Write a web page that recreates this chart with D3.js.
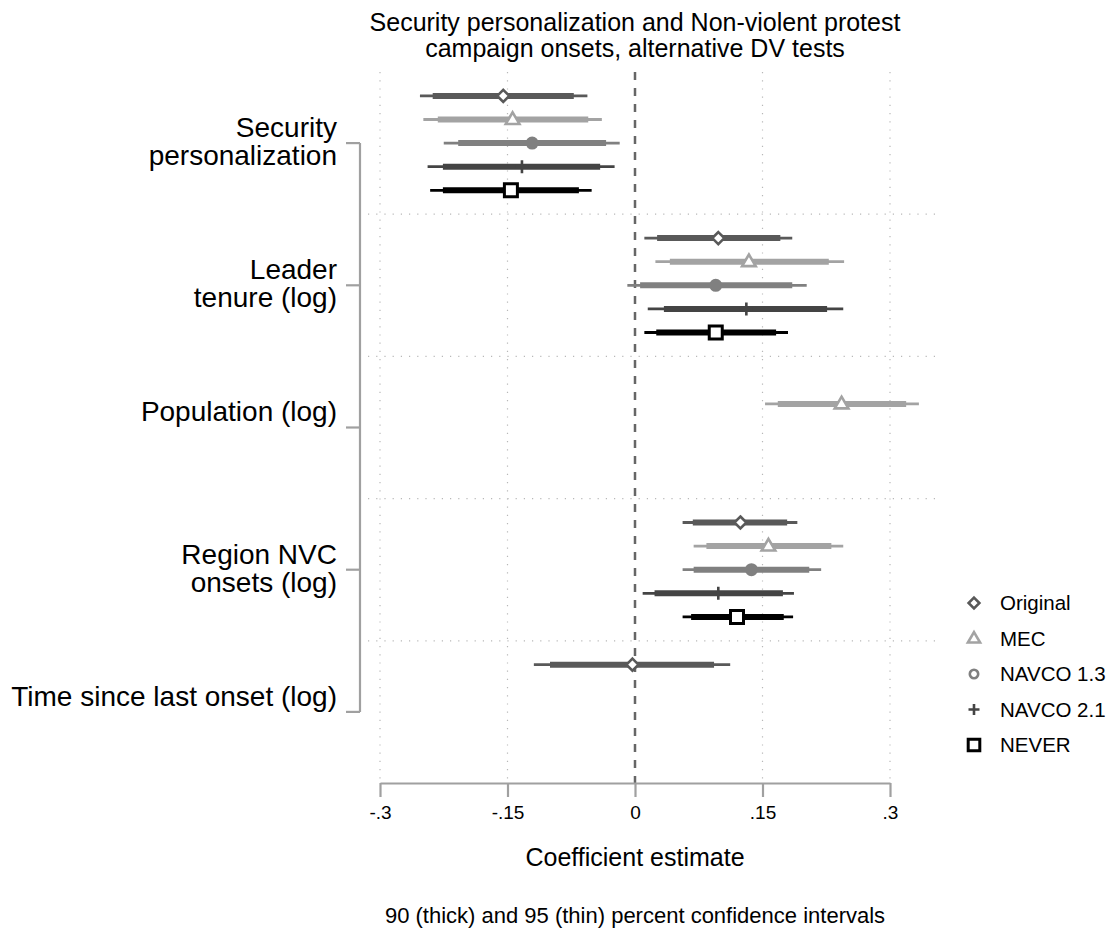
<!DOCTYPE html>
<html>
<head>
<meta charset="utf-8">
<script src="https://cdn.jsdelivr.net/npm/d3@7"></script>
<style>
  body { margin: 0; background: #fff; }
  text { font-family: "Liberation Sans", Arial, sans-serif; fill: #000; }
</style>
</head>
<body>
<div class="canvas"></div>
<script>
// categories (y axis) and their label lines
const categories = ['secpers', 'tenure', 'pop', 'region', 'since'];
const catLabels = [
    ['Security', 'personalization'],
    ['Leader', 'tenure (log)'],
    ['Population (log)'],
    ['Region NVC', 'onsets (log)'],
    ['Time since last onset (log)']
];

// models (series)
const models = ['Original', 'MEC', 'NAVCO 1.3', 'NAVCO 2.1', 'NEVER'];

// point estimates, rows = models, cols = categories
const estimates = [
    [-0.155, 0.098, null, 0.124, -0.003],
    [-0.144, 0.134, 0.243, 0.157, null],
    [-0.121, 0.095, null, 0.137, null],
    [-0.133, 0.131, null, 0.098, null],
    [-0.146, 0.095, null, 0.120, null]
];
// 90% intervals
const lo90 = [
    [-0.238, 0.026, null, 0.068, -0.100],
    [-0.232, 0.041, 0.168, 0.084, null],
    [-0.208, 0.006, null, 0.069, null],
    [-0.226, 0.034, null, 0.023, null],
    [-0.226, 0.025, null, 0.066, null]
];
const hi90 = [
    [-0.072, 0.171, null, 0.179, 0.093],
    [-0.055, 0.228, 0.319, 0.231, null],
    [-0.034, 0.185, null, 0.205, null],
    [-0.041, 0.226, null, 0.174, null],
    [-0.066, 0.166, null, 0.175, null]
];
// 95% intervals
const lo95 = [
    [-0.253, 0.011, null, 0.056, -0.119],
    [-0.249, 0.024, 0.153, 0.069, null],
    [-0.225, -0.009, null, 0.056, null],
    [-0.244, 0.015, null, 0.009, null],
    [-0.241, 0.011, null, 0.056, null]
];
const hi95 = [
    [-0.056, 0.185, null, 0.191, 0.112],
    [-0.039, 0.246, 0.334, 0.245, null],
    [-0.018, 0.202, null, 0.219, null],
    [-0.024, 0.245, null, 0.187, null],
    [-0.051, 0.180, null, 0.186, null]
];

const xTicks = [-0.3, -0.15, 0, 0.15, 0.3];
const xTickLabels = ['-.3', '-.15', '0', '.15', '.3'];

// styles per model
const colors = ['#595959', '#a3a3a3', '#808080', '#444444', '#000000'];
const shapes = ['diamond', 'triangle', 'circle', 'plus', 'square'];

// marker path generator
const markerPath = (shape, r) => {
    switch (shape) {
        case 'diamond': return `M0,${-r}L${r},0L0,${r}L${-r},0Z`;
        case 'triangle': return `M0,${-r}L${r * 0.95},${r * 0.62}L${-r * 0.95},${r * 0.62}Z`;
        case 'square': return `M${-r},${-r}H${r}V${r}H${-r}Z`;
        case 'plus': return `M0,${-r}V${r}M${-r},0H${r}`;
        default: return `M${r},0A${r},${r},0,1,1,${-r},0A${r},${r},0,1,1,${r},0Z`;
    }
};

const width = 1120, height = 950;
const plot = {left: 368, right: 935, top: 72, bottom: 783};

const svg = d3.select('.canvas')
    .append('svg')
    .attr('width', width)
    .attr('height', height);

// scales
const x = d3.scaleLinear().domain([-0.3, 0.3]).range([380, 890]);
const y = d3.scaleBand().domain(categories).range([plot.top, plot.bottom]);
const yRow = d3.scalePoint().domain(models).range([-47.2, 47.2]);
const yc = c => y(c) + y.bandwidth() / 2;

// title
const title = svg.append('text')
    .attr('x', 635)
    .attr('text-anchor', 'middle')
    .style('font-size', '25px');
title.append('tspan').attr('x', 635).attr('y', 31).text('Security personalization and Non-violent protest');
title.append('tspan').attr('x', 635).attr('y', 57).text('campaign onsets, alternative DV tests');

// grid: vertical dotted
const grid = svg.append('g');
grid.selectAll('line.vg')
    .data(xTicks.filter(d => d !== 0))
    .enter().append('line')
    .attr('x1', d => x(d)).attr('x2', d => x(d))
    .attr('y1', plot.top).attr('y2', plot.bottom)
    .attr('stroke', '#b8b8b8')
    .attr('stroke-width', 1.2)
    .attr('stroke-dasharray', '1.2,7');

// grid: horizontal dotted between groups
grid.selectAll('line.hg')
    .data(categories.slice(1))
    .enter().append('line')
    .attr('x1', plot.left).attr('x2', plot.right)
    .attr('y1', d => y(d)).attr('y2', d => y(d))
    .attr('stroke', '#b8b8b8')
    .attr('stroke-width', 1.2)
    .attr('stroke-dasharray', '1.2,7');

// zero reference line
svg.append('line')
    .attr('x1', x(0)).attr('x2', x(0))
    .attr('y1', plot.top).attr('y2', plot.bottom)
    .attr('stroke', '#666')
    .attr('stroke-width', 2.5)
    .attr('stroke-dasharray', '8,8');

// x axis
const xAxis = d3.axisBottom(x)
    .tickValues(xTicks)
    .tickFormat((d, i) => xTickLabels[i])
    .tickSize(14)
    .tickPadding(9)
    .tickSizeOuter(0);
const gx = svg.append('g')
    .attr('transform', `translate(0,${plot.bottom})`)
    .call(xAxis);
gx.select('.domain').attr('stroke', '#a0a0a0').attr('stroke-width', 2.2);
gx.selectAll('.tick line').attr('stroke', '#a0a0a0').attr('stroke-width', 2.2);
gx.selectAll('.tick text')
    .style('font-size', '19px')
    .style('font-family', '"Liberation Sans", Arial, sans-serif')
    .attr('fill', '#000');

// y axis (bracket style)
const yAxis = d3.axisLeft(y)
    .tickSize(14)
    .tickFormat('')
    .tickSizeOuter(0);
const gy = svg.append('g')
    .attr('transform', 'translate(360,0)')
    .call(yAxis);
gy.select('.domain').attr('d', `M0,${yc(categories[0])}V${yc(categories[categories.length - 1])}`)
    .attr('stroke', '#a0a0a0').attr('stroke-width', 2.2).attr('fill', 'none');
gy.selectAll('.tick line').attr('stroke', '#a0a0a0').attr('stroke-width', 2.2);

// y labels
const yLab = svg.append('g').selectAll('text')
    .data(categories)
    .enter().append('text')
    .attr('text-anchor', 'end')
    .style('font-size', '28px');
yLab.each(function(c, i) {
    const t = d3.select(this);
    catLabels[i].forEach((line, j) => {
        t.append('tspan')
            .attr('x', 337)
            .attr('y', yc(c) - 16 + j * 28)
            .attr('dy', '0.35em')
            .text(line);
    });
});

// build rows from arrays
const rows = [];
models.forEach((m, mi) => {
    categories.forEach((c, ci) => {
        if (estimates[mi][ci] === null) return;
        rows.push({
            model: m, mi, cat: c,
            est: estimates[mi][ci],
            l90: lo90[mi][ci], h90: hi90[mi][ci],
            l95: lo95[mi][ci], h95: hi95[mi][ci]
        });
    });
});

const marks = svg.append('g');
models.forEach((m, mi) => {
    const g = marks.append('g');
    const data = rows.filter(r => r.mi === mi);
    const ry = d => yc(d.cat) + yRow(d.model);

    // 95 thin
    g.selectAll('line.thin').data(data).enter().append('line')
        .attr('x1', d => x(d.l95)).attr('x2', d => x(d.h95))
        .attr('y1', ry).attr('y2', ry)
        .attr('stroke', colors[mi]).attr('stroke-width', 2.8);
    // 90 thick
    g.selectAll('line.thick').data(data).enter().append('line')
        .attr('x1', d => x(d.l90)).attr('x2', d => x(d.h90))
        .attr('y1', ry).attr('y2', ry)
        .attr('stroke', colors[mi]).attr('stroke-width', 6);

    // markers
    const shape = shapes[mi];
    const r = {diamond: 6, triangle: 7.2, circle: 5.2, plus: 6.5, square: 6.5}[shape];
    g.selectAll('path').data(data).enter().append('path')
        .attr('transform', d => `translate(${x(d.est)},${ry(d)})`)
        .attr('d', markerPath(shape, r))
        .attr('fill', shape === 'circle' ? colors[mi] : (shape === 'plus' ? 'none' : '#fff'))
        .attr('stroke', colors[mi])
        .attr('stroke-width', shape === 'square' ? 3 : 2.6);
});

// axis titles
svg.append('text')
    .attr('x', 635).attr('y', 866)
    .attr('text-anchor', 'middle')
    .style('font-size', '25px')
    .text('Coefficient estimate');

svg.append('text')
    .attr('x', 635).attr('y', 923)
    .attr('text-anchor', 'middle')
    .style('font-size', '22px')
    .text('90 (thick) and 95 (thin) percent confidence intervals');

// legend
const legend = svg.append('g').attr('transform', 'translate(974,603)');
const lg = legend.selectAll('g')
    .data(models)
    .enter().append('g')
    .attr('transform', (d, i) => `translate(0,${i * 35.5})`);
lg.append('path')
    .attr('d', (d, i) => markerPath(shapes[i], {diamond: 5.4, triangle: 6.4, circle: 4.2, plus: 5.5, square: 5.8}[shapes[i]]))
    .attr('fill', (d, i) => shapes[i] === 'plus' ? 'none' : '#fff')
    .attr('stroke', (d, i) => colors[i])
    .attr('stroke-width', (d, i) => shapes[i] === 'square' ? 3 : 2.6);
lg.append('text')
    .attr('x', 26)
    .attr('dy', '0.35em')
    .style('font-size', '20.5px')
    .text(d => d);
</script>
</body>
</html>
